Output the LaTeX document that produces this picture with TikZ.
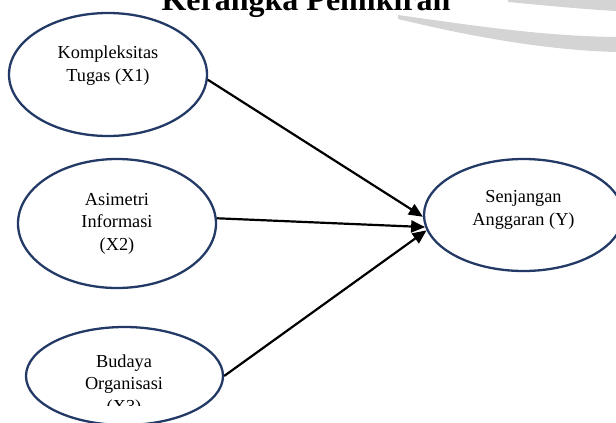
\documentclass[tikz,border=0pt]{standalone}
\usepackage{fontspec}
\setmainfont{Liberation Serif}
\usepackage{tikz}
\usetikzlibrary{shapes.geometric}
\usetikzlibrary{arrows.meta}
\usepackage{xcolor}
\definecolor{ColA}{RGB}{35,58,102}
\definecolor{ColB}{RGB}{212,212,212}
\tikzstyle{NodeVar}=[ellipse,draw=ColA,line width=2.3pt,inner sep=0pt]
\tikzstyle{TextVar}=[align=center,anchor=base,inner sep=0pt,
font=\fontsize{18.3}{22.5}\selectfont]
\tikzstyle{EdgeVar}=[black,line width=2.2pt,-{Triangle[length=14pt,width=12pt]}]

\begin{document}
\begin{tikzpicture}[x=1pt,y=-1pt]
        \useasboundingbox (0,0) rectangle (616,423);
        % watermark in the corner
        \fill[ColB] (398,15) .. controls (470,25) and (540,36) .. (616,37)
            -- (616,52) .. controls (540,50) and (460,34) .. (398,19) -- cycle;
        \fill[ColB] (508,0) -- (616,0) -- (616,11) .. controls (580,9) and (540,5) .. (508,2) -- cycle;
        \node[font=\fontsize{32}{36}\bfseries\selectfont,anchor=base,inner sep=0pt](title)at(306,10.5){Kerangka Pemikiran};
        \node[NodeVar,minimum width=198pt,minimum height=123pt](x1)at(108,74.5){};
        \node[NodeVar,minimum width=198pt,minimum height=129pt](x2)at(117,223.5){};
        \node[NodeVar,minimum width=197pt,minimum height=98pt](x3)at(124.5,376){};
        \node[NodeVar,minimum width=199pt,minimum height=112pt](y)at(523.5,215){};
        % base = last line
        \node[TextVar](x1t)at(108,81){Kompleksitas\\Tugas (X1)};
        \node[TextVar](x2t)at(117,250){Asimetri\\Informasi\\(X2)};
        \begin{scope}
            \clip (0,0) rectangle (616,405);
            \node[TextVar](x3t)at(124,412){Budaya\\Organisasi\\(X3)};
        \end{scope}
        \node[TextVar](yt)at(523.5,225){Senjangan\\Anggaran (Y)};
        \draw[EdgeVar](x1.357)--(y.181);
        \draw[EdgeVar](x2.3)--(y.187);
        \draw[EdgeVar](x3.east)--(y.189);
    \end{tikzpicture}
\end{document}
